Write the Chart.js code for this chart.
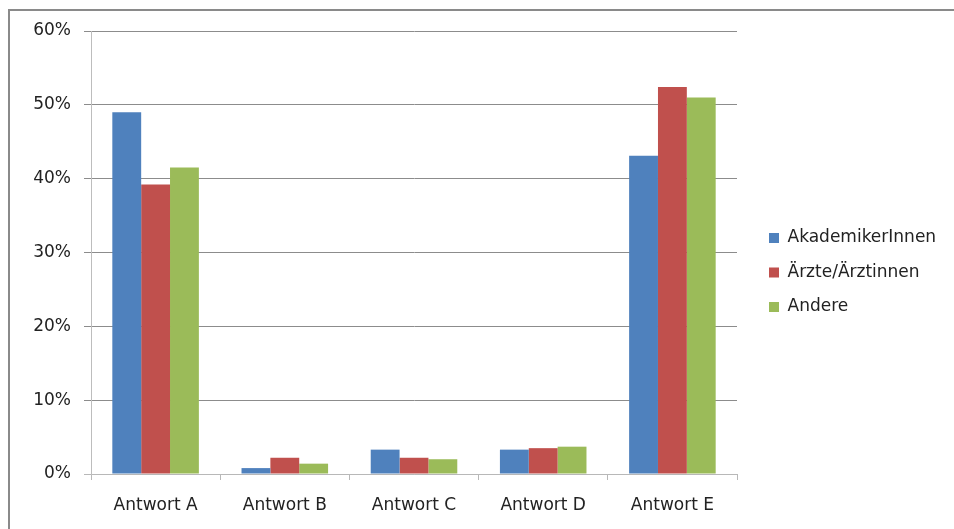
<!DOCTYPE html>
<html lang="de">
<head>
    <meta charset="UTF-8">
    <title>Antworten nach Gruppe</title>
    <style>
        html, body { margin: 0; background: #fff; overflow: hidden; width: 954px; height: 529px; }
        #frame {
            position: absolute; left: 8px; top: 9px;
            width: 1200px; height: 800px;
            border-top: 2px solid #8a8a8a;
            border-left: 2px solid #8a8a8a;
        }
        #wrap { position: absolute; left: 0; top: 0; width: 954px; height: 529px; }
    </style>
    <script src="https://cdn.jsdelivr.net/npm/chart.js"></script>
</head>
<body>
<div id="frame"></div>
<div id="wrap"><canvas id="chart" width="954" height="529"></canvas></div>
<script>
    // Werte in Prozent
    const antworten = ['Antwort A', 'Antwort B', 'Antwort C', 'Antwort D', 'Antwort E'];
    const akademiker = [49.0, 0.8, 3.3, 3.3, 43.1];
    const aerzte = [39.2, 2.2, 2.2, 3.5, 52.4];
    const andere = [41.5, 1.4, 2.0, 3.7, 51.0];
    const gruppen = ['AkademikerInnen', 'Ärzte/Ärztinnen', 'Andere'];
    const farben = ['#4f81bd', '#c0504d', '#9bbb59'];

    const schrift = { family: '"DejaVu Sans", sans-serif', size: 17 };

    // Legende: feste Breite und Position rechts neben dem Diagramm
    const legendePlugin = {
        id: 'legendePlatz',
        beforeLayout(chart) {
            const lg = chart.legend;
            if (lg && !lg._fitGepatcht) {
                const orig = lg.fit;
                lg.fit = function () {
                    orig.call(this);
                    this.width = 217;
                };
                lg._fitGepatcht = true;
            }
        },
        afterLayout(chart) {
            const lg = chart.legend;
            lg.left = 769 - 17.5;
            lg.right = lg.left + 217;
            lg.top = 212;
        }
    };

    new Chart(document.getElementById('chart'), {
        type: 'bar',
        data: {
            labels: antworten,
            datasets: [akademiker, aerzte, andere].map((werte, i) => ({
                label: gruppen[i],
                data: werte,
                backgroundColor: farben[i],
                borderWidth: 0,
                categoryPercentage: 0.67,
                barPercentage: 1.0
            }))
        },
        options: {
            responsive: false,
            animation: false,
            layout: { padding: { top: 31, left: 0, right: 0, bottom: 0 } },
            plugins: {
                legend: {
                    position: 'right',
                    align: 'start',
                    labels: {
                        boxWidth: 10,
                        boxHeight: 10,
                        padding: 17.5,
                        color: '#222',
                        font: schrift
                    }
                },
                tooltip: { enabled: false }
            },
            scales: {
                x: {
                    grid: {
                        drawOnChartArea: false,
                        drawTicks: true,
                        tickLength: 6,
                        color: '#b8b8b8'
                    },
                    border: { color: '#b8b8b8' },
                    ticks: { color: '#222', font: schrift, padding: 15 },
                    afterFit(scale) { scale.height = 55; }
                },
                y: {
                    min: 0,
                    max: 60,
                    grid: {
                        color: ctx => ctx.tick && ctx.tick.value === 0 ? '#b8b8b8' : '#8c8c8c',
                        tickLength: 7
                    },
                    border: { color: '#bdbdbd' },
                    ticks: {
                        stepSize: 10,
                        color: '#222',
                        font: schrift,
                        padding: 13,
                        callback: v => v + '%'
                    },
                    afterFit(scale) { scale.width = 91; }
                }
            }
        },
        plugins: [legendePlugin]
    });
</script>
</body>
</html>
